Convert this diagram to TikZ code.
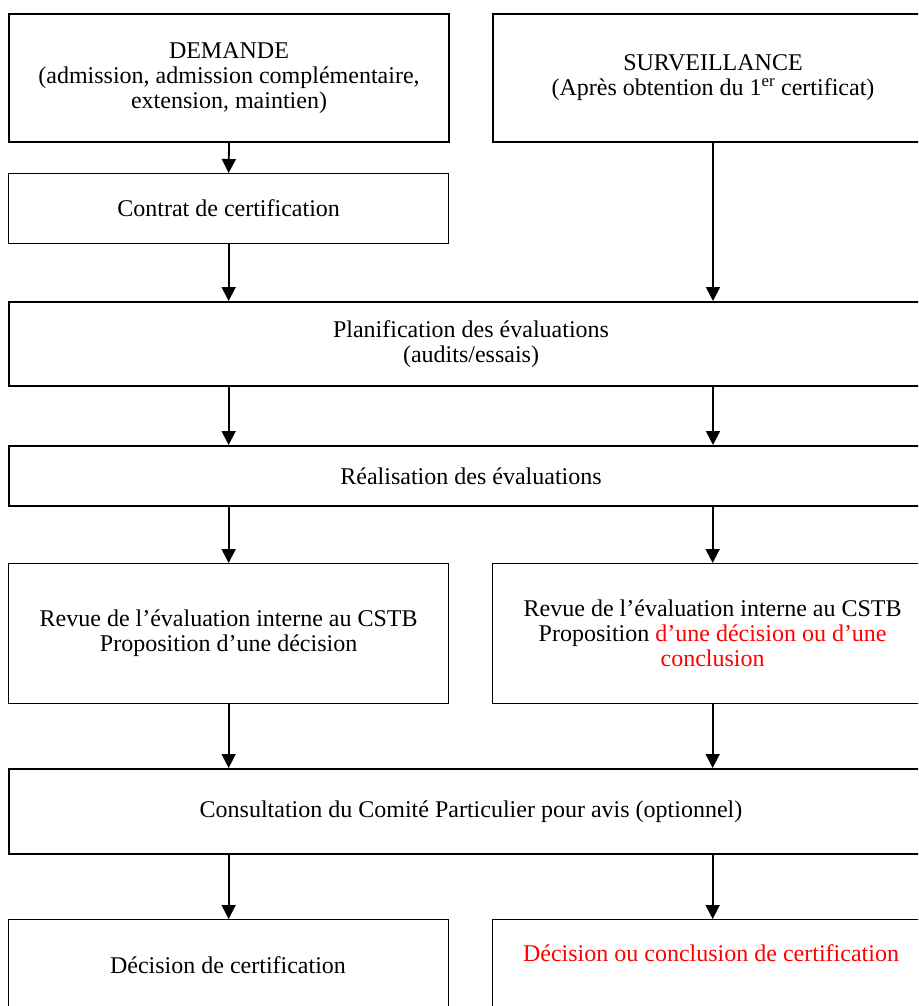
\documentclass[tikz,border=0pt]{standalone}
\usepackage{fontspec}
\setmainfont{Liberation Serif}
\usetikzlibrary{arrows.meta}
\begin{document}
\begin{tikzpicture}[x=1pt,y=-1pt,
  every node/.style={font=\fontsize{24}{25}\selectfont, align=center},
  thickbox/.style={draw, line width=2pt, inner sep=0pt, anchor=north west},
  thinbox/.style={draw, line width=1.3pt, inner sep=0pt, anchor=north west},
  arr/.style={line width=1.8pt, -{Triangle[length=14pt,width=14pt]}},
  redtxt/.style={text=red}]
\useasboundingbox (0,0) rectangle (918,1006);
\clip (0,0) rectangle (918,1006);

\node[thickbox, minimum width=440pt, minimum height=128pt] (dem) at (8,13)
  {DEMANDE\\(admission, admission complémentaire,\\extension, maintien)};
\node[thickbox, minimum width=440pt, minimum height=128pt] (sur) at (492,13)
  {SURVEILLANCE\\(Après obtention du 1\textsuperscript{er} certificat)};
\node[thinbox, minimum width=440pt, minimum height=70pt] (con) at (8,173)
  {Contrat de certification};
\node[thickbox, minimum width=924pt, minimum height=84pt] (plan) at (8,301)
  {Planification des évaluations\\(audits/essais)};
\node[thickbox, minimum width=924pt, minimum height=60pt] (real) at (8,445)
  {Réalisation des évaluations};
\node[thinbox, minimum width=440pt, minimum height=140pt] (revl) at (8,563)
  {Revue de l’évaluation interne au CSTB\\Proposition d’une décision};
\node[thinbox, minimum width=440pt, minimum height=140pt] (revr) at (492,563)
  {Revue de l’évaluation interne au CSTB\\Proposition \textcolor{red}{d’une décision ou d’une}\\\textcolor{red}{conclusion}};
\node[thickbox, minimum width=924pt, minimum height=85pt] (cons) at (8,768)
  {Consultation du Comité Particulier pour avis (optionnel)};
\node[thinbox, minimum width=440pt, minimum height=110pt] (decl) at (8,919) {};
\node[thinbox, minimum width=440pt, minimum height=110pt] (decr) at (492,919) {};
\node (decltxt) at (228,965) {Décision de certification};
\node[redtxt] (decrtxt) at (711,953) {Décision ou conclusion de certification};

\draw[arr] (dem.south) -- (con.north);
\draw[arr] (con.south) -- (con.south |- plan.north);
\draw[arr] (sur.south) -- (sur.south |- plan.north);
\draw[arr] (plan.south -| con.south) -- (real.north -| con.south);
\draw[arr] (plan.south -| sur.south) -- (real.north -| sur.south);
\draw[arr] (real.south -| revl.north) -- (revl.north);
\draw[arr] (real.south -| revr.north) -- (revr.north);
\draw[arr] (revl.south) -- (revl.south |- cons.north);
\draw[arr] (revr.south) -- (revr.south |- cons.north);
\draw[arr] (cons.south -| decl.north) -- (decl.north);
\draw[arr] (cons.south -| decr.north) -- (decr.north);
\end{tikzpicture}
\end{document}
